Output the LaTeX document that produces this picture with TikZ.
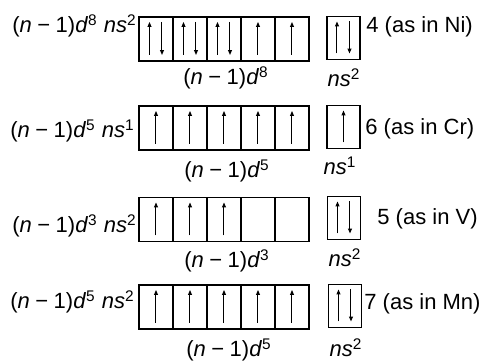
\documentclass[tikz,border=0pt]{standalone}
\usepackage{fontspec}
\setmainfont{Liberation Sans}
\usetikzlibrary{arrows.meta,positioning}
\newcommand{\dconf}[1]{(\textit{n}\hspace{0.25em}−\hspace{0.25em}1)\textit{d}\textsuperscript{#1}}
\newcommand{\sconf}[1]{\textit{ns}\textsuperscript{#1}}
\newcommand{\spinup}[2][0pt]{\draw[spin] ([xshift=#1,yshift=3pt]#2.south) -- ([xshift=#1,yshift=-2.5pt]#2.north);}
\newcommand{\spindn}[2][0pt]{\draw[spin] ([xshift=#1,yshift=-2.5pt]#2.north) -- ([xshift=#1,yshift=3pt]#2.south);}

\begin{document}
\begin{tikzpicture}[
  x=0.5pt, y=-0.5pt, font=\fontsize{11}{13}\selectfont, inner sep=0pt,
  orb/.style={draw, line width=0.6pt, minimum width=17pt, minimum height=22pt, outer sep=0pt},
  sorb/.style={orb, minimum width=16.5pt, minimum height=21.5pt},
  spin/.style={line width=0.5pt, -{Triangle[length=2.4pt, width=1.9pt]}},
  conf/.style={anchor=base east},
  val/.style={anchor=base west},
  sub/.style={anchor=base},
]
\useasboundingbox (0,0) rectangle (479,362);
% Ni
\node[conf] (cni) at (137,33) {\dconf{8} \sconf{2}};
\foreach \i/\o in {1/2,2/2,3/2,4/1,5/1} {
  \node[orb] (ni\i) at ({122+34*\i},39) {};
  \ifnum\o=2 \spinup[-3.25pt]{ni\i}\spindn[3pt]{ni\i}\else\spinup{ni\i}\fi
}
\node[sorb] (ni0) at (343.5,38) {};
\spinup[-3.25pt]{ni0}\spindn[3pt]{ni0}
\node[val] (vni) at (366,33) {4 (as in Ni)};
\node[sub] (dni) at (226,85) {\dconf{8}};
\node[sub] (sni) at (344,87) {\sconf{2}};
% Cr
\node[conf] (ccr) at (135,138) {\dconf{5} \sconf{1}};
\foreach \i in {1,...,5} {
  \node[orb] (cr\i) at ({122+34*\i},128) {};
  \spinup{cr\i}
}
\node[sorb] (cr0) at (343.5,127) {};
\spinup{cr0}
\node[val] (vcr) at (365,135) {6 (as in Cr)};
\node[sub] (dcr) at (227,178) {\dconf{5}};
\node[sub] (scr) at (340,175) {\sconf{1}};
% V
\node[conf] (cv) at (137,233) {\dconf{3} \sconf{2}};
\foreach \i/\o in {1/1,2/1,3/1,4/0,5/0} {
  \node[orb] (v\i) at ({122+34*\i},219.5) {};
  \ifnum\o=1 \spinup{v\i}\fi
}
\node[sorb] (v0) at (344,218) {};
\spinup[-3.25pt]{v0}\spindn[3pt]{v0}
\node[val] (vv) at (377,225) {5 (as in V)};
\node[sub] (dv) at (227,268) {\dconf{3}};
\node[sub] (sv) at (345,267) {\sconf{2}};
% Mn
\node[conf] (cmn) at (135,309) {\dconf{5} \sconf{2}};
\foreach \i in {1,...,5} {
  \node[orb] (mn\i) at ({122+34*\i},307) {};
  \spinup{mn\i}
}
\node[sorb] (mn0) at (345,306) {};
\spinup[-3.25pt]{mn0}\spindn[3pt]{mn0}
\node[val] (vmn) at (364,310) {7 (as in Mn)};
\node[sub] (dmn) at (229,357) {\dconf{5}};
\node[sub] (smn) at (346,357) {\sconf{2}};
\end{tikzpicture}
\end{document}
